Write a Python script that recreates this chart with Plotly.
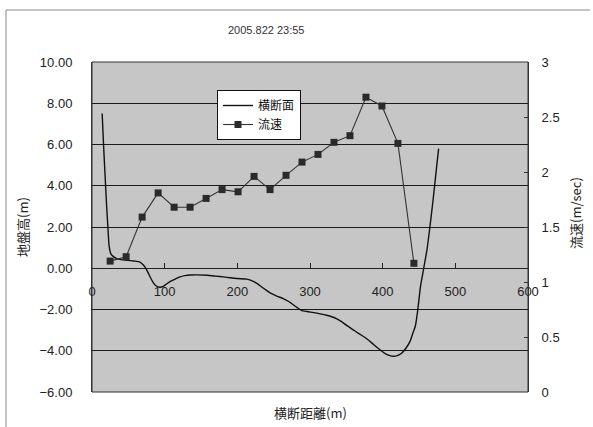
import plotly.graph_objects as go

# Cross-section profile: distance across the channel (m) and ground elevation (m)
section_x = [14, 16, 18, 20, 22, 23.5, 26, 30, 34, 40, 48, 58, 66, 70, 73, 77, 80, 84, 88, 93,
             98, 103, 108, 115, 121, 128, 135, 145, 158, 170, 181, 190, 200, 213, 222, 228, 234,
             240, 247, 255, 263, 270, 275, 282, 288, 296, 305, 314, 323, 330, 337, 344, 350, 357,
             364, 371, 378, 385, 392, 398, 404, 410, 415, 420, 426, 432, 438, 442, 445, 448, 450,
             452, 455, 458, 461, 465, 469, 473, 477]
section_h = [7.5, 5.9, 4.5, 3.1, 1.9, 1.1, 0.7, 0.55, 0.47, 0.42, 0.39, 0.35, 0.3, 0.18, 0.05,
             -0.2, -0.42, -0.68, -0.85, -0.92, -0.88, -0.75, -0.64, -0.52, -0.42, -0.36, -0.33,
             -0.32, -0.34, -0.38, -0.42, -0.46, -0.5, -0.53, -0.64, -0.76, -0.92, -1.07, -1.23,
             -1.36, -1.47, -1.6, -1.72, -1.9, -2.04, -2.1, -2.15, -2.21, -2.28, -2.35, -2.45,
             -2.6, -2.76, -2.93, -3.09, -3.25, -3.42, -3.62, -3.83, -4.0, -4.15, -4.24, -4.27,
             -4.24, -4.12, -3.88, -3.52, -3.1, -2.8, -2.1, -1.5, -0.9, -0.3, 0.3, 0.9, 2.0, 3.2,
             4.5, 5.8]

# Measured flow velocity (m/sec) at stations across the section
velocity_x = [25, 47, 69, 91, 113, 135, 157, 179, 201, 223, 245, 267, 289, 311, 333, 355, 377,
              399, 421, 443]
velocity_v = [1.19, 1.23, 1.59, 1.81, 1.68, 1.68, 1.76, 1.84, 1.82, 1.96, 1.84, 1.97, 2.09, 2.16,
              2.27, 2.33, 2.68, 2.60, 2.26, 1.17]

title_text = "2005.822 23:55"
x_title = "横断距離(m)"
y_title = "地盤高(m)"
y2_title = "流速(m/sec)"

W, H = 593, 427
L, R, T, B = 92, 65, 62, 35
PW, PH = W - L - R, H - T - B


def px(xp):
    return (xp - L) / PW


def py(yp):
    return (H - B - yp) / PH


tick_font = dict(family="Liberation Sans, Arial, sans-serif", size=13, color="#222222")
cjk_font = dict(family="Noto Sans CJK JP, sans-serif", size=13, color="#222222")


def label(text, xp, yp, font, angle=0):
    return dict(text=text, x=px(xp), y=py(yp), xref="paper", yref="paper",
                xanchor="center", yanchor="middle", showarrow=False,
                textangle=angle, font=font)


fig = go.Figure()

fig.add_trace(go.Scatter(
    x=section_x, y=section_h, name="横断面", mode="lines",
    line=dict(color="#111111", width=1.4, shape="spline", smoothing=0.6),
))
fig.add_trace(go.Scatter(
    x=velocity_x, y=velocity_v, name="流速", mode="lines+markers", yaxis="y2",
    line=dict(color="#333333", width=1.1),
    marker=dict(symbol="square", size=7, color="#2a2a2a"),
))

fig.update_layout(
    width=W, height=H,
    margin=dict(l=L, r=R, t=T, b=B),
    paper_bgcolor="white",
    plot_bgcolor="#c6c6c6",
    showlegend=True,
    legend=dict(
        x=px(217), y=py(90), xanchor="left", yanchor="top",
        bgcolor="white", bordercolor="#111111", borderwidth=1,
        font=dict(family="Noto Sans CJK JP, sans-serif", size=12, color="#111111"),
        tracegroupgap=0, itemwidth=30,
    ),
    xaxis=dict(
        range=[0, 600], dtick=100, tick0=0,
        anchor="free", position=6 / 16,
        showgrid=False, zeroline=False,
        showline=True, linecolor="#222222", linewidth=1,
        ticks="inside", ticklen=5, tickcolor="#222222",
        tickfont=tick_font, ticklabelstandoff=11,
    ),
    yaxis=dict(
        range=[-6, 10], dtick=2, tick0=-6, tickformat=".2f",
        showgrid=True, gridcolor="#1a1a1a", gridwidth=1,
        zeroline=False, showline=True, linecolor="#333333", linewidth=1,
        ticks="", tickfont=tick_font, ticklabelstandoff=16,
    ),
    yaxis2=dict(
        range=[0, 3], dtick=0.5, tick0=0,
        overlaying="y", side="right",
        showgrid=False, zeroline=False,
        showline=True, linecolor="#333333", linewidth=1,
        ticks="inside", ticklen=4, tickcolor="#333333",
        tickfont=tick_font, ticklabelstandoff=10,
    ),
    annotations=[
        label(title_text, 266, 30, dict(family="Liberation Sans, Arial, sans-serif",
                                        size=11, color="#333333")),
        label(x_title, 310, 412, cjk_font),
        label(y_title, 22, 227, cjk_font, -90),
        label(y2_title, 576, 213, cjk_font, -90),
    ],
    shapes=[
        # plot area frame
        dict(type="rect", xref="paper", yref="paper", x0=0, x1=1, y0=0, y1=1,
             line=dict(color="#333333", width=1), layer="above"),
        # outer chart frame (top and left edges)
        dict(type="line", xref="paper", yref="paper", x0=px(6), x1=px(590), y0=py(10), y1=py(10),
             line=dict(color="#888888", width=1)),
        dict(type="line", xref="paper", yref="paper", x0=px(6), x1=px(6), y0=py(10), y1=py(427),
             line=dict(color="#888888", width=1)),
    ],
)

fig.write_html("out.html")
